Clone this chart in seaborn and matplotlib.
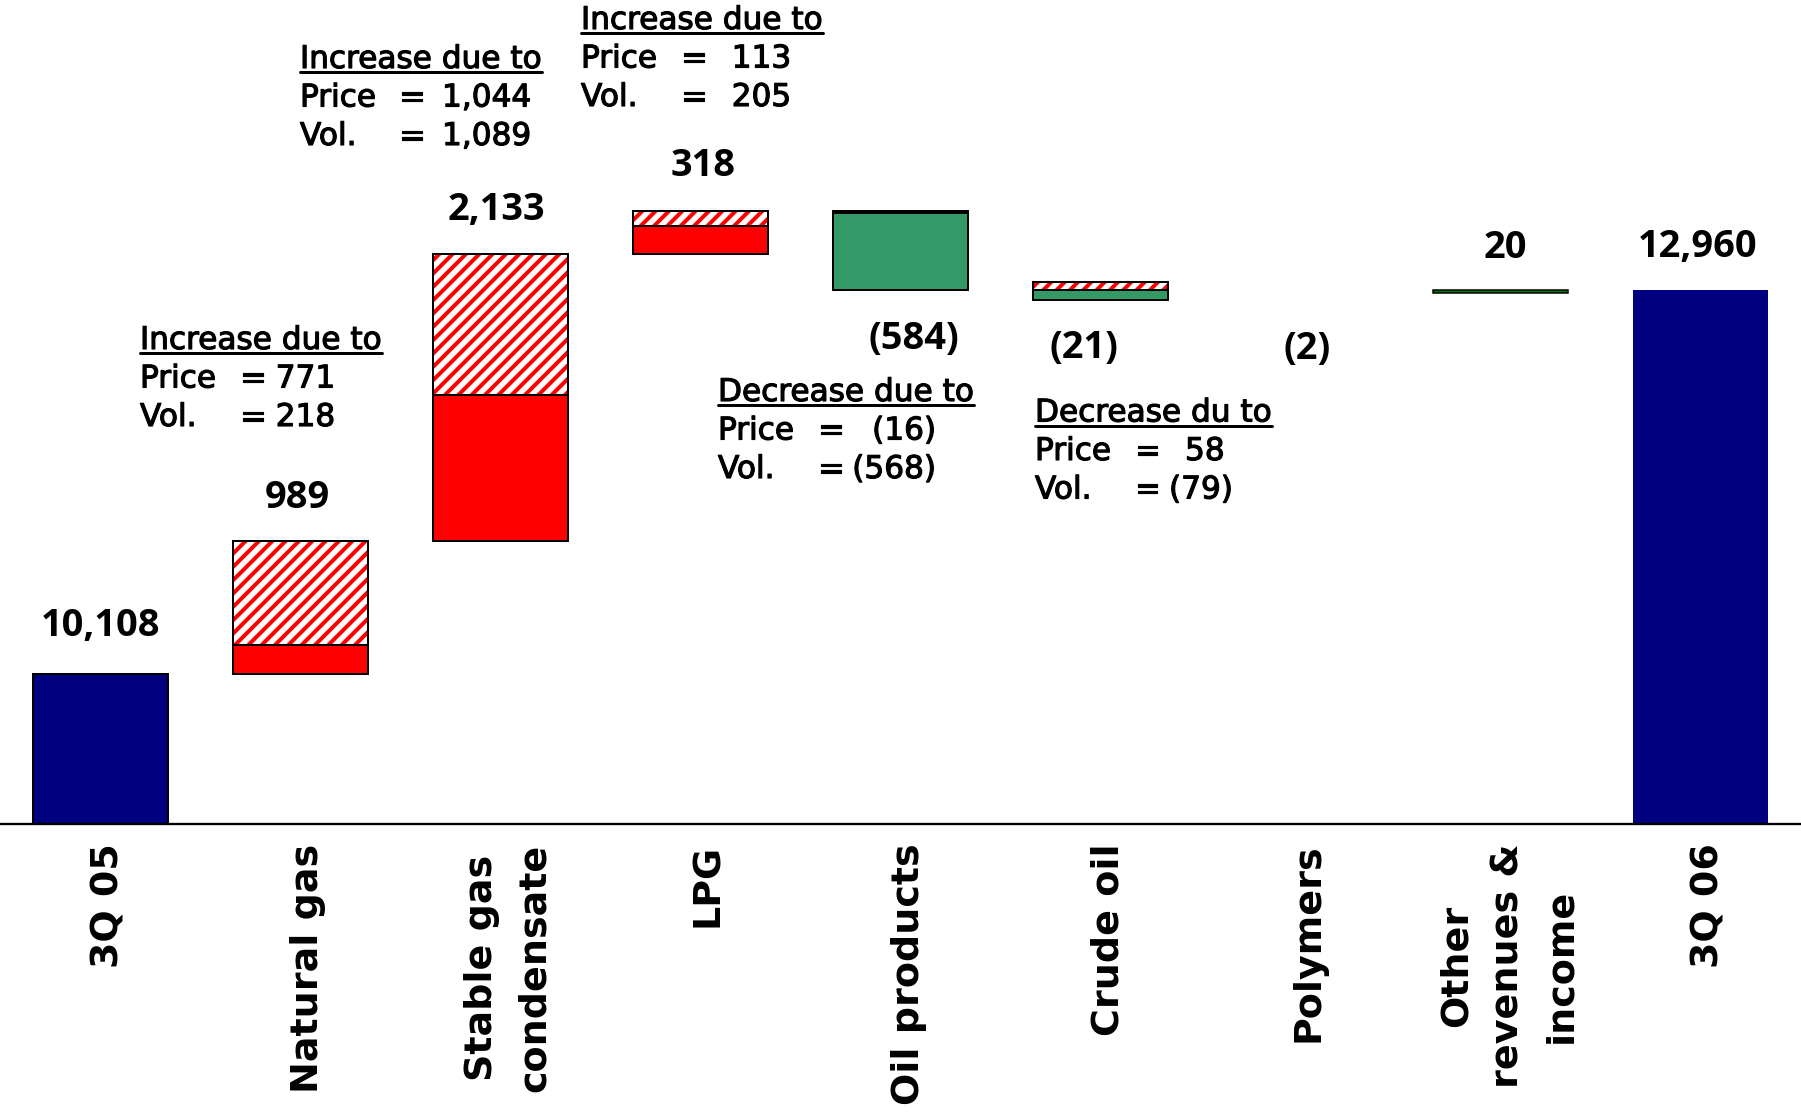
import numpy as np
import pandas as pd
import matplotlib
matplotlib.use("Agg")
import matplotlib.pyplot as plt
import matplotlib.patheffects as pe
import seaborn as sns
from matplotlib.lines import Line2D

# ---------------- data ----------------
categories = ["3Q 05", "Natural gas", "Stable gas\ncondensate", "LPG", "Oil products",
              "Crude oil", "Polymers", "Other\nrevenues &\nincome", "3Q 06"]
totals = [10108, 0, 0, 0, 0, 0, 0, 0, 12960]
price_effect = [0, 771, 1044, 113, -16, 58, 0, 0, 0]
volume_effect = [0, 218, 1089, 205, -568, -79, -2, 20, 0]
value_labels = ["10,108", "989", "2,133", "318", "(584)", "(21)", "(2)", "20", "12,960"]

note_headers = ["Increase due to", "Increase due to", "Increase due to",
                "Decrease due to", "Decrease du to"]
note_row_names = ["Price", "Vol."]
note_price = ["771", "1,044", "113", "(16)", "58"]
note_volume = ["218", "1,089", "205", "(568)", "(79)"]

# ---------------- style / layout ----------------
W, H, DPI = 1801, 1118, 120
NAVY = "#000080"
RED = "#FF0000"
GREEN = "#339966"
DARK_GREEN = "#007A00"
BAR_W = 0.675
AX_BOTTOM_PX = 823.5
PX_PER_UNIT = 0.13464
Y_MIN = 9000
LABEL_SHIFT = 0.04

sns.set_style("white")
plt.rcParams["hatch.linewidth"] = 2.4
plt.rcParams["font.family"] = ["DejaVu Sans"]
plt.rcParams["text.color"] = "black"
plt.rcParams["xtick.color"] = "black"

fig = plt.figure(figsize=(W / DPI, H / DPI), dpi=DPI)
ax = fig.add_axes([0, 1 - AX_BOTTOM_PX / H, 1, AX_BOTTOM_PX / H])

df = pd.DataFrame({"category": categories, "total": totals})
sns.barplot(data=df, x="category", y="total", order=categories, color=NAVY,
            saturation=1, width=BAR_W, edgecolor="black", linewidth=1.2,
            errorbar=None, ax=ax)
ax.patches[-1].set_linewidth(0)

ax.set_ylim(Y_MIN, Y_MIN + AX_BOTTOM_PX / PX_PER_UNIT)
ax.set_xlim(-0.5, len(categories) - 0.5)

# floating segments
level = totals[0]
tops, bottoms = [totals[0]], [Y_MIN]
for i in range(1, len(categories) - 1):
    p, v = price_effect[i], volume_effect[i]
    up, dn = level, level
    segs = []
    if v > 0:
        segs.append((up, v, "vol_pos")); up += v
    if p > 0:
        segs.append((up, p, "price_pos")); up += p
    if p < 0:
        segs.append((dn + p, -p, "price_neg")); dn += p
    if v < 0:
        segs.append((dn + v, -v, "vol_neg")); dn += v
    other = categories[i].startswith("Other")
    for bottom, h, kind in segs:
        lw = 1.2 if h >= 10 else 0
        if kind == "price_pos":
            ax.bar(i, h, bottom=bottom, width=BAR_W, color="white", edgecolor=RED,
                   hatch="///", linewidth=0, zorder=3)
            ax.bar(i, h, bottom=bottom, width=BAR_W, fill=False, edgecolor="black",
                   linewidth=lw, zorder=4)
        else:
            if other:
                fc, lw = DARK_GREEN, 0.9
            elif kind == "vol_pos":
                fc = RED
            else:
                fc = GREEN
            ax.bar(i, h, bottom=bottom, width=BAR_W, color=fc, edgecolor="black",
                   linewidth=lw, zorder=3)
    tops.append(up)
    bottoms.append(dn)
    level += p + v
tops.append(totals[-1])
bottoms.append(Y_MIN)

# axes decoration
for s in ["left", "right", "top"]:
    ax.spines[s].set_visible(False)
ax.spines["bottom"].set_linewidth(1.4)
ax.spines["bottom"].set_color("black")
ax.set_yticks([])
ax.set_xlabel("")
ax.set_ylabel("")
ax.set_xticks(np.arange(len(categories)) + LABEL_SHIFT)
ax.set_xticklabels(categories, rotation=90, fontsize=22.8, fontweight="bold",
                   va="top", ha="center", multialignment="center",
                   linespacing=1.58, color="black")
ax.tick_params(axis="x", which="major", length=0, pad=12)
ax.set_xticks(np.arange(-0.5, len(categories), 1.0), minor=True)
ax.tick_params(axis="x", which="minor", length=9.6, width=1.4, color="black",
               direction="out")

# value labels
label_dx = [0, -3, -4, 3, 13, -17, 6, 4, -3]
label_dy = [38, 33, 34, 35, 59, 58, 66, 32, 33]
for i, txt in enumerate(value_labels):
    net = totals[i] if i in (0, len(categories) - 1) else price_effect[i] + volume_effect[i]
    if net >= 0:
        xy, dy = (i, tops[i]), label_dy[i]
    else:
        xy, dy = (i, bottoms[i]), -label_dy[i]
    ax.annotate(txt, xy=xy, xytext=(label_dx[i], dy), textcoords="offset pixels",
                ha="center", va="baseline", fontsize=22.8, fontweight="bold",
                family=["Open Sans", "DejaVu Sans"], color="black")

# explanatory notes (pixel layout)
note_x = [140, 300, 581, 718, 1035]
note_y = [349, 68, 29, 401, 421.5]
note_eq_cx = [253, 412, 694, 831, 1147.5]
note_val_x = [(275.7, 275.7), (442, 442), (731.7, 731.7), (936, 936), (1185, 1169)]
note_val_ha = ["left", "left", "left", "right", "left"]
LINE = 38.5
NOTE_FS = 18.7
NOTE_FX = [pe.withStroke(linewidth=0.7, foreground="black")]

def fx(x):
    return x / W

def fy(y):
    return 1 - y / H

def note_text(x, y, s, ha="left"):
    return fig.text(fx(x), fy(y), s, fontsize=NOTE_FS, fontweight="normal",
                    ha=ha, va="baseline", color="black", path_effects=NOTE_FX)

headers = []
for k in range(len(note_headers)):
    headers.append(note_text(note_x[k], note_y[k], note_headers[k]))
    vals = [note_price[k], note_volume[k]]
    for r in range(2):
        yb = note_y[k] + LINE * (r + 1)
        note_text(note_x[k], yb, note_row_names[r])
        note_text(note_eq_cx[k], yb, "=", ha="center")
        note_text(note_val_x[k][r], yb, vals[r], ha=note_val_ha[k])

fig.canvas.draw()
renderer = fig.canvas.get_renderer()
for k, t in enumerate(headers):
    bb = t.get_window_extent(renderer)
    yl = H - (note_y[k] + 4)
    fig.add_artist(Line2D([bb.x0 / W, bb.x1 / W], [yl / H, yl / H],
                          transform=fig.transFigure, color="black", linewidth=1.8))

fig.savefig("out.png", dpi=DPI, facecolor="white")
